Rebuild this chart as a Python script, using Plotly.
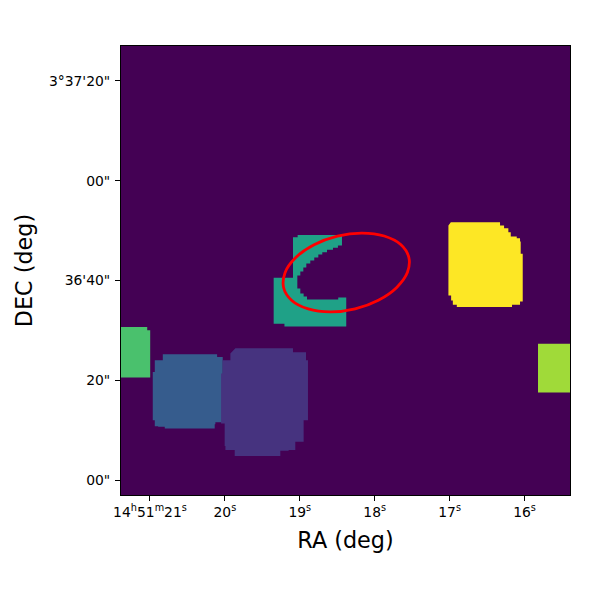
import plotly.graph_objects as go

# RA in seconds past 14h51m, DEC in arcsec past 3d36m
RA_RANGE = [21.387, 15.393]
DEC_RANGE = [-3, 87]

RA_TICKS = [21, 20, 19, 18, 17, 16]
RA_LABELS = ["14<sup>h</sup>51<sup>m</sup>21<sup>s</sup>", "20<sup>s</sup>", "19<sup>s</sup>",
             "18<sup>s</sup>", "17<sup>s</sup>", "16<sup>s</sup>"]
DEC_TICKS = [0, 20, 40, 60, 80]
DEC_LABELS = ['00"', '20"', "36'40\"", '00"', "3°37'20\""]

# segmentation regions, painted in this order
BLUE_RA = [20.829, 20.104, 20.104, 20.029, 20.029, 20.127, 20.136, 20.793, 20.803, 20.891, 20.936, 20.963, 20.963, 20.936, 20.829]
BLUE_DEC = [25.2, 25.2, 24.66, 24.34, 11.6, 11.2, 10.34, 10.34, 10.66, 10.8, 12, 12.8, 21.66, 24, 24.34]

PURPLE_RA = [19.86, 19.091, 19.091, 18.971, 18.917, 18.891, 18.891, 18.949, 18.949, 19.06, 19.06, 19.149, 19.26, 19.86,
             19.869, 19.993, 20.003, 20.051, 20.051, 20.029, 19.927]
PURPLE_DEC = [26.4, 26.4, 25.6, 25.6, 24, 22.66, 12, 11.66, 7.66, 7.66, 6, 5.86, 4.8, 4.8,
              6, 6.8, 11.34, 11.66, 21.34, 24, 25.34]

TEAL_RA = [19.091, 19.029, 18.437, 18.437, 18.491, 18.557, 18.637, 18.7, 18.753, 18.807, 18.86, 18.913, 18.953,
           18.993, 19.033, 18.993, 18.949, 18.904, 18.487, 18.487, 18.38, 18.38, 19.193, 19.205, 19.327, 19.349,
           19.349, 19.091]
TEAL_DEC = [48.66, 49.14, 49.14, 47, 46.54, 46.14, 45.66, 45.2, 44.6, 44, 43.4, 42.6, 41.8,
            41, 38.4, 37.4, 36.8, 36.2, 36.2, 36.6, 36.6, 30.8, 30.8, 31.34, 31.34, 31.8,
            40.54, 40.54]

GREEN_RA = [21.387, 21.083, 21.037, 20.997, 20.997, 21.387]
GREEN_DEC = [30.66, 30.66, 30, 29.34, 20.54, 20.54]

LIME_RA = [15.82, 15.393, 15.393, 15.793, 15.82]
LIME_DEC = [27.34, 27.34, 17.54, 17.54, 18]

YELLOW_RA = [16.984, 16.363, 16.327, 16.273, 16.216, 16.184, 16.104, 16.06, 16.051, 16.024, 16.024, 16.06, 16.167,
             16.807, 16.904, 16.957, 16.98, 17.016, 17.016]
YELLOW_DEC = [51.66, 51.66, 51, 50.46, 49.66, 48.8, 48.46, 47.8, 45.34, 45.14, 35.8, 35.14, 34.66,
              34.66, 35.14, 36, 37, 37.54, 51]

# aperture outline
ELLIPSE_RA = [17.545, 17.653, 17.873, 18.169, 18.498, 18.809, 19.054, 19.197, 19.216, 19.107, 18.887, 18.591,
              18.262, 17.951, 17.706, 17.563, 17.545]
ELLIPSE_DEC = [44.65, 47.21, 48.91, 49.5, 48.89, 47.16, 44.59, 41.57, 38.55, 35.99, 34.29, 33.7,
               34.31, 36.04, 38.61, 41.63, 44.65]

REGIONS = [
    (BLUE_RA, BLUE_DEC, "#365c8d"),
    (PURPLE_RA, PURPLE_DEC, "#46337f"),
    (TEAL_RA, TEAL_DEC, "#1fa187"),
    (GREEN_RA, GREEN_DEC, "#4ac16d"),
    (LIME_RA, LIME_DEC, "#a0da39"),
    (YELLOW_RA, YELLOW_DEC, "#fde725"),
]

fig = go.Figure()

for ra, dec, color in REGIONS:
    fig.add_trace(go.Scatter(
        x=ra, y=dec,
        mode="lines",
        line=dict(width=0, shape="hv"),
        fill="toself",
        fillcolor=color,
        hoverinfo="skip",
    ))

fig.add_trace(go.Scatter(
    x=ELLIPSE_RA, y=ELLIPSE_DEC,
    mode="lines",
    line=dict(color="#ff0000", width=2.8, shape="spline"),
    hoverinfo="skip",
))

axis_style = dict(
    showgrid=False,
    zeroline=False,
    showline=True,
    linecolor="black",
    linewidth=1,
    mirror=True,
    ticks="outside",
    ticklen=5,
    tickwidth=1,
    tickcolor="black",
    tickfont=dict(size=13.9, color="black"),
    tickangle=0,
)

fig.update_xaxes(
    range=RA_RANGE, tickmode="array", tickvals=RA_TICKS, ticktext=RA_LABELS,
    ticklabelstandoff=-1,
    title=dict(text="RA (deg)", font=dict(size=22.3, color="black"), standoff=13),
    **axis_style,
)
fig.update_yaxes(
    range=DEC_RANGE, tickmode="array", tickvals=DEC_TICKS, ticktext=DEC_LABELS,
    ticklabelstandoff=2,
    title=dict(text="DEC (deg)", font=dict(size=22.3, color="black"), standoff=10),
    **axis_style,
)

fig.update_layout(
    width=600,
    height=600,
    showlegend=False,
    font=dict(family="DejaVu Sans"),
    plot_bgcolor="#440154",
    paper_bgcolor="white",
    margin=dict(l=121, r=30, t=46, b=105),
)

fig.write_html("out.html", config={"displayModeBar": False},
               post_script="document.body.style.margin = '0';")
